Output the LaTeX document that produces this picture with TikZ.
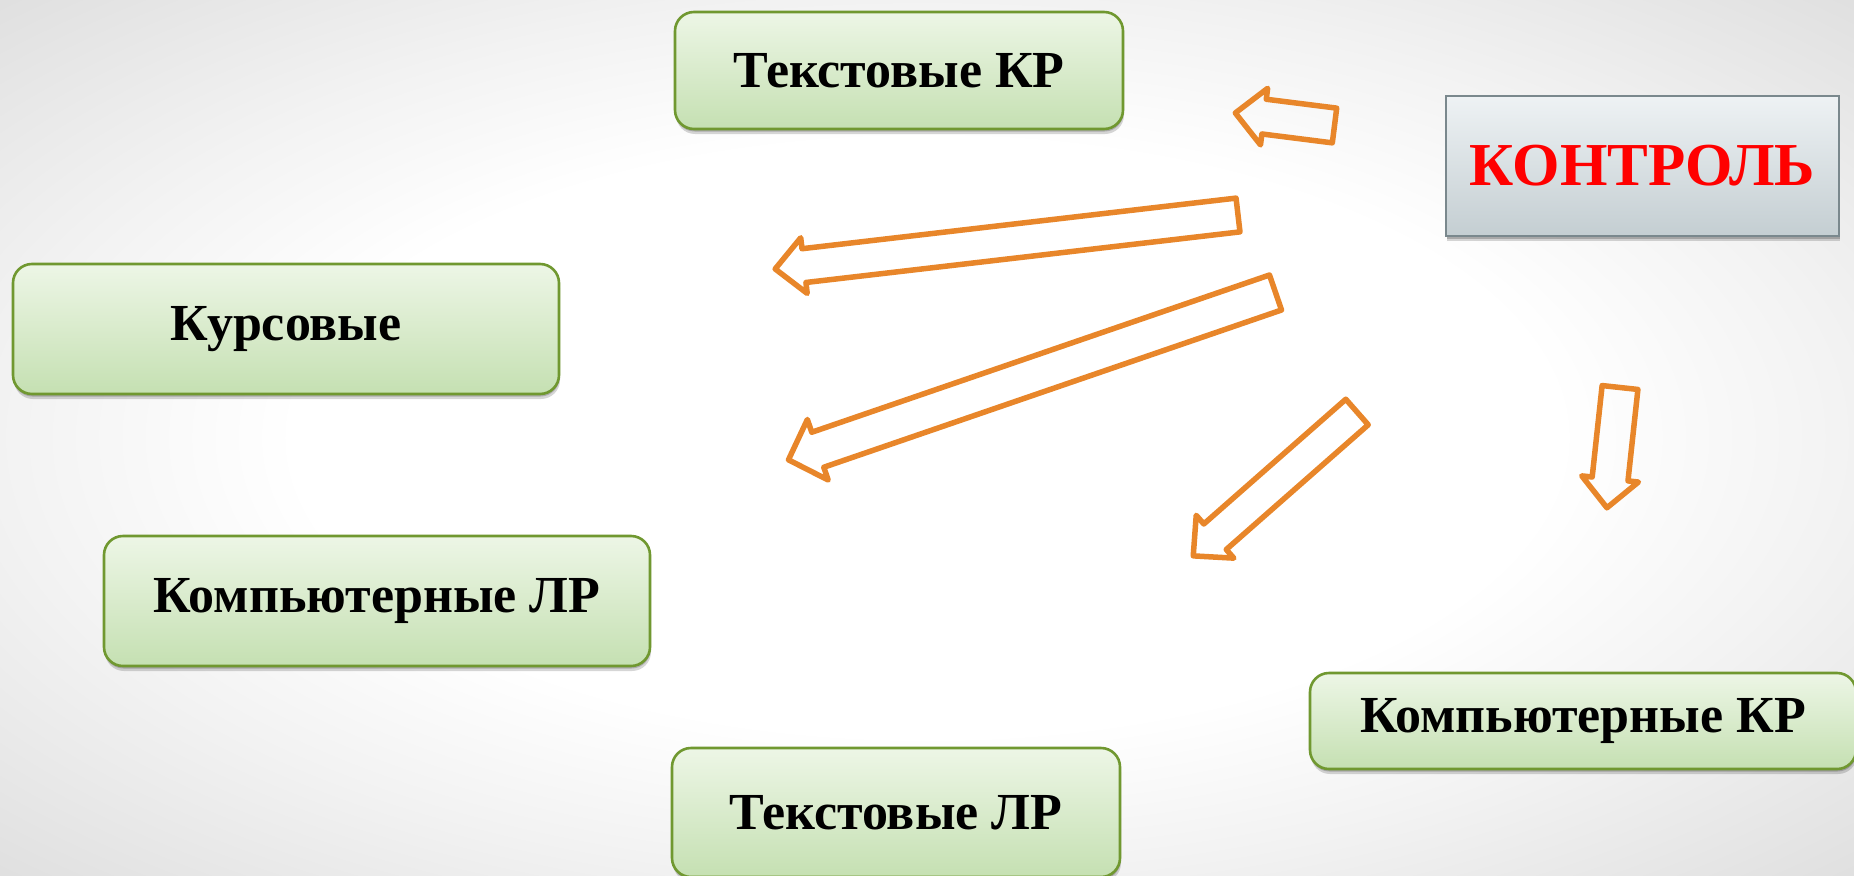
\documentclass[tikz,border=0pt]{standalone}
\usepackage{fontspec}
\setmainfont{Liberation Serif}
\usetikzlibrary{shadows}
\definecolor{gtop}{RGB}{237,246,230}
\definecolor{gbot}{RGB}{197,224,178}
\definecolor{gborder}{RGB}{112,152,48}
\definecolor{ktop}{RGB}{238,242,244}
\definecolor{kbot}{RGB}{196,206,210}
\definecolor{kborder}{RGB}{122,136,141}
\definecolor{arrorange}{RGB}{232,134,42}
\pgfdeclareradialshading{bgshade}{\pgfpoint{0bp}{0bp}}{color(0bp)=(white); color(17bp)=(white); color(25bp)=(black!5); color(35bp)=(black!12); color(50bp)=(black!12)}
\tikzset{
  softshadow/.style={drop shadow={shadow xshift=1pt, shadow yshift=-5pt, opacity=0.16, fill=black},
                     drop shadow={shadow xshift=0.5pt, shadow yshift=-2.5pt, opacity=0.2, fill=black}},
  gbox/.style={draw=gborder, line width=2.6pt, rounded corners=19pt, top color=gtop, bottom color=gbot,
               softshadow, inner sep=0pt, font=\bfseries\fontsize{52}{60}\selectfont, text=black},
  kbox/.style={draw=kborder, line width=2.6pt, top color=ktop, bottom color=kbot, softshadow,
               inner sep=0pt, font=\bfseries\fontsize{61}{70}\selectfont, text=red},
  arrowline/.style={draw=arrorange, line width=5.5pt, line join=round}
}
\newcommand\blockarrow[6]{%
  \begin{scope}[shift={#1},rotate=#2]
    \draw[arrowline] (0,{-#4/2}) -- ({#3-#6},{-#4/2}) -- ({#3-#6},{-#5/2}) -- (#3,0)
      -- ({#3-#6},{#5/2}) -- ({#3-#6},{#4/2}) -- (0,{#4/2}) -- cycle;
  \end{scope}}
\begin{document}
\begin{tikzpicture}[x=1pt,y=-1pt]
  \useasboundingbox (0,0) rectangle (1854,875);
  \shade[shading=bgshade] (0,0) rectangle (1854,875);
  % boxes
  \node[gbox, minimum width=448pt, minimum height=117pt] (tkr) at (899,70.5) {Текстовые КР};
  \node[kbox, minimum width=393pt, minimum height=140pt] (kontrol) at (1642.5,166) {КОНТРОЛЬ};
  \node[gbox, minimum width=546pt, minimum height=130pt] (kurs) at (286,329) {Курсовые};
  \node[gbox, minimum width=546pt, minimum height=130pt] (klr) at (377,601) {Компьютерные ЛР};
  \node[gbox, minimum width=546pt, minimum height=96pt] (kkr) at (1583,721) {Компьютерные КР};
  \node[gbox, minimum width=448pt, minimum height=129pt] (tlr) at (896,812.5) {Текстовые ЛР};
  % block arrows
  \blockarrow{(1334.5,125.5)}{172.8}{100}{35}{57}{29}
  \blockarrow{(1238,215)}{186.65}{466}{34}{56}{29}
  \blockarrow{(1275.5,292.5)}{198.96}{515}{37}{64}{31}
  \blockarrow{(1357,412)}{221.3}{218}{34}{57}{29}
  \blockarrow{(1620,387.5)}{263.8}{121}{36}{57}{29}
\end{tikzpicture}
\end{document}
